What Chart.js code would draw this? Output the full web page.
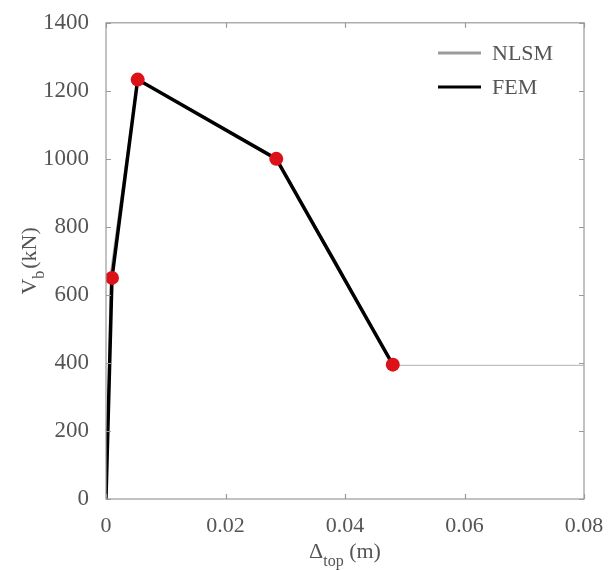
<!DOCTYPE html>
<html>
<head>
<meta charset="utf-8">
<script src="https://cdn.jsdelivr.net/npm/chart.js@4.4.1/dist/chart.umd.min.js"></script>
<style>
html,body{margin:0;padding:0;background:#fff;}
#wrap{width:616px;height:570px;}
</style>
</head>
<body>
<div id="wrap"><canvas id="pushover"></canvas></div>
<script>
// pushover curves, displacement in m, base shear in kN
var nlsmX = [0, 0.0007, 0.0052, 0.0285, 0.0385, 0.048, 0.08];
var nlsmY = [0, 660, 1233, 1000, 700, 393, 393];
var femX = [0, 0.001, 0.0053, 0.0285, 0.048];
var femY = [0, 650, 1233, 1000, 395];
var xTicks = [0, 0.02, 0.04, 0.06, 0.08];
var yTicks = [0, 200, 400, 600, 800, 1000, 1200, 1400];

var serif = "'Liberation Serif', 'DejaVu Serif', serif";
var txtColor = "#555";

function toPts(xs, ys){
  var out = [];
  for (var i = 0; i < xs.length; i++) out.push({x: xs[i], y: ys[i]});
  return out;
}

var boxPlugin = {
  id: "matlabBox",
  afterDraw: function(chart){
    var ctx = chart.ctx, a = chart.chartArea;
    var sx = chart.scales.x, sy = chart.scales.y;
    ctx.save();
    ctx.strokeStyle = "#9a9a9a";
    ctx.lineWidth = 1.2;
    ctx.strokeRect(a.left, a.top, a.right - a.left, a.bottom - a.top);
    // inward ticks on all sides
    var tl = 5;
    ctx.beginPath();
    xTicks.forEach(function(v){
      var px = Math.round(sx.getPixelForValue(v)) + 0.5;
      ctx.moveTo(px, a.bottom); ctx.lineTo(px, a.bottom - tl);
      ctx.moveTo(px, a.top); ctx.lineTo(px, a.top + tl);
    });
    yTicks.forEach(function(v){
      var py = Math.round(sy.getPixelForValue(v)) + 0.5;
      ctx.moveTo(a.left, py); ctx.lineTo(a.left + tl, py);
      ctx.moveTo(a.right, py); ctx.lineTo(a.right - tl, py);
    });
    ctx.stroke();

    // axis titles with subscripts
    ctx.fillStyle = txtColor;
    ctx.textBaseline = "alphabetic";
    var big = "22px " + serif, small = "16px " + serif;
    // x title
    ctx.font = big;
    var w1 = ctx.measureText("\u0394").width;
    var w3 = ctx.measureText(" (m)").width;
    ctx.font = small;
    var w2 = ctx.measureText("top").width;
    var cx = (a.left + a.right) / 2, by = 558;
    var x0 = cx - (w1 + w2 + w3) / 2;
    ctx.textAlign = "left";
    ctx.font = big; ctx.fillText("\u0394", x0, by);
    ctx.font = small; ctx.fillText("top", x0 + w1, by + 8);
    ctx.font = big; ctx.fillText(" (m)", x0 + w1 + w2, by);
    // y title
    ctx.save();
    ctx.translate(36, (a.top + a.bottom) / 2);
    ctx.rotate(-Math.PI / 2);
    ctx.font = big;
    var v1 = ctx.measureText("V").width, v3 = ctx.measureText("(kN)").width;
    ctx.font = small;
    var v2 = ctx.measureText("b").width + 2;
    var y0 = -(v1 + v2 + v3) / 2;
    ctx.font = big; ctx.fillText("V", y0, 0);
    ctx.font = small; ctx.fillText("b", y0 + v1, 8);
    ctx.font = big; ctx.fillText("(kN)", y0 + v1 + v2, 0);
    ctx.restore();

    // legend
    var ds = chart.data.datasets;
    var rows = [53, 87];
    ds.forEach(function(d, i){
      ctx.strokeStyle = d.legendColor;
      ctx.lineWidth = 3;
      ctx.beginPath();
      ctx.moveTo(438, rows[i]); ctx.lineTo(481, rows[i]);
      ctx.stroke();
      ctx.fillStyle = txtColor;
      ctx.font = "22px " + serif;
      ctx.textBaseline = "middle";
      ctx.fillText(d.label, 492, rows[i] + 1);
    });
    ctx.restore();
  }
};

new Chart(document.getElementById("pushover"), {
  type: "line",
  data: {
    datasets: [{
      label: "NLSM",
      data: toPts(nlsmX, nlsmY),
      order: 2,
      borderColor: "#b0b0b0",
      legendColor: "#9b9b9b",
      borderWidth: 1,
      pointRadius: 0,
      tension: 0,
      fill: false
    }, {
      label: "FEM",
      data: toPts(femX, femY),
      order: 1,
      borderColor: "#000",
      legendColor: "#000",
      borderWidth: 3.5,
      tension: 0,
      pointRadius: [0, 7, 7, 7, 7],
      pointBackgroundColor: "#dd1118",
      pointBorderColor: "#dd1118",
      pointBorderWidth: 0,
      fill: false
    }]
  },
  options: {
    responsive: true,
    maintainAspectRatio: false,
    animation: false,
    layout: {padding: {top: 18, right: 32, left: 0, bottom: 0}},
    plugins: {legend: {display: false}, tooltip: {enabled: false}},
    scales: {
      x: {
        type: "linear",
        min: 0, max: 0.08,
        afterBuildTicks: function(s){ s.ticks = xTicks.map(function(v){ return {value: v}; }); },
        afterFit: function(s){ s.height = 71; },
        grid: {display: false},
        border: {display: false},
        ticks: {
          color: txtColor,
          font: {family: serif, size: 22},
          padding: 6,
          maxRotation: 0,
          callback: function(v){ return v === 0 ? "0" : v.toFixed(2); }
        }
      },
      y: {
        type: "linear",
        min: 0, max: 1400,
        afterBuildTicks: function(s){ s.ticks = yTicks.map(function(v){ return {value: v}; }); },
        afterFit: function(s){ s.width = 106; },
        grid: {display: false},
        border: {display: false},
        ticks: {
          color: txtColor,
          font: {family: serif, size: 23},
          padding: 9,
          callback: function(v){ return String(v); }
        }
      }
    }
  },
  plugins: [boxPlugin]
});
</script>
</body>
</html>
